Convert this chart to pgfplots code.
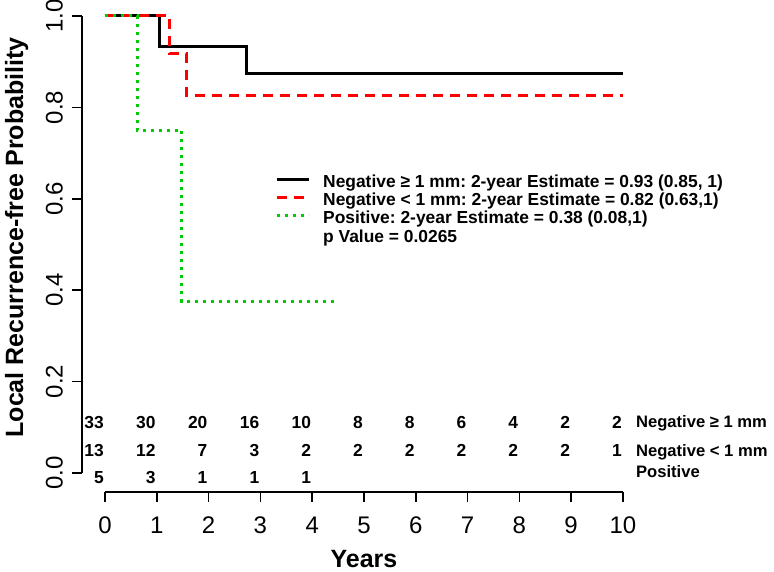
\documentclass[border=0pt]{standalone}
\usepackage{fontspec}
\setmainfont{Liberation Sans}
\usepackage{pgfplots}
\pgfplotsset{compat=1.18}
\definecolor{rgreen}{RGB}{0,205,0}
\definecolor{rred}{RGB}{255,0,0}
\frenchspacing
\begin{document}
\begin{tikzpicture}[x=1pt,y=1pt]
\useasboundingbox (0,0) rectangle (774,572);
\begin{axis}[
  at={(82pt,80pt)}, anchor=south west,
  scale only axis, width=556.5pt, height=476pt,
  xmin=-0.444, xmax=10.3, ymin=-0.0416, ymax=1,
  clip=false,
  axis lines=left, axis line style={draw=none},
  tick align=outside, major tick length=10pt,
  tick style={line width=1.6pt, black},
  xtick={0,1,2,3,4,5,6,7,8,9,10},
  ytick={0,0.2,0.4,0.6,0.8,1},
  yticklabel={\pgfmathprintnumber[fixed,fixed zerofill,precision=1]{\tick}},
  /pgf/number format/assume math mode=true,
  ticklabel style={font=\fontsize{24}{24}\selectfont},
  xticklabel style={anchor=north, inner sep=0pt, yshift=-15pt},
  yticklabel style={rotate=90, anchor=south, inner sep=0pt, yshift=9pt},
  xlabel={Years},
  ylabel={Local Recurrence-free Probability},
  every axis x label/.style={at={(rel axis cs:0.5067,-0.1576)}, anchor=base, font=\bfseries\fontsize{25}{25}\selectfont},
  every axis y label/.style={at={(rel axis cs:-0.106,0.5347)}, anchor=base, rotate=90, font=\bfseries\fontsize{25}{25}\selectfont},
  legend style={at={(axis cs:3.282,0.655)}, anchor=north west, draw=none, fill=none, inner sep=0pt,
    font=\bfseries\fontsize{17.4}{17.4}\selectfont,
    column sep=13pt,
    nodes={inner sep=0pt, text height=13.3pt, text depth=5pt}},
  legend cell align=left,
  legend image code/.code={\draw[#1] (0pt,4pt) -- (32pt,4pt);},
]
\addplot[const plot, line width=3pt, black] coordinates {(0,1) (1.06,0.933) (2.74,0.875) (10,0.875)};
\addlegendentry{Negative ≥ 1 mm: 2-year Estimate = 0.93 (0.85, 1)}
\addplot[const plot, line width=3pt, rred, dash pattern=on 10pt off 7pt] coordinates {(0,1) (1.25,0.917) (1.58,0.825) (10,0.825)};
\addlegendentry{Negative < 1 mm: 2-year Estimate = 0.82 (0.63,1)}
\addplot[const plot, line width=3pt, rgreen, dash pattern=on 3pt off 5pt] coordinates {(0,1) (0.62,0.75) (1.48,0.375) (4.48,0.375)};
\addlegendentry{Positive: 2-year Estimate = 0.38 (0.08,1)}
\addlegendimage{empty legend}
\addlegendentry{p Value = 0.0265}

% numbers at risk
\addplot[forget plot, draw=none, mark=none, nodes near coords, point meta=explicit symbolic,
  nodes near coords style={anchor=base east, inner sep=0pt, xshift=-1pt, font=\bfseries\fontsize{17.4}{17.4}\selectfont}]
  table[meta=n] {
x y n
0 0.0963 33
1 0.0963 30
2 0.0963 20
3 0.0963 16
4 0.0963 10
5 0.0963 8
6 0.0963 8
7 0.0963 6
8 0.0963 4
9 0.0963 2
10 0.0963 2
0 0.0350 13
1 0.0350 12
2 0.0350 7
3 0.0350 3
4 0.0350 2
5 0.0350 2
6 0.0350 2
7 0.0350 2
8 0.0350 2
9 0.0350 2
10 0.0350 1
0 -0.0240 5
1 -0.0240 3
2 -0.0240 1
3 -0.0240 1
4 -0.0240 1
};
\addplot[forget plot, draw=none, mark=none, nodes near coords, point meta=explicit symbolic,
  nodes near coords style={anchor=base west, inner sep=0pt, font=\bfseries\fontsize{16.6}{16.6}\selectfont}]
  table[meta=n, col sep=comma] {
x,y,n
10.25,0.0985,Negative ≥ 1 mm
10.25,0.0350,Negative < 1 mm
10.25,-0.0100,Positive
};
\draw[line width=1.6pt] (axis cs:0,-0.0416) -- (axis cs:10,-0.0416);
\draw[line width=1.6pt] (axis cs:-0.444,0) -- (axis cs:-0.444,1);
\end{axis}
\end{tikzpicture}
\end{document}
